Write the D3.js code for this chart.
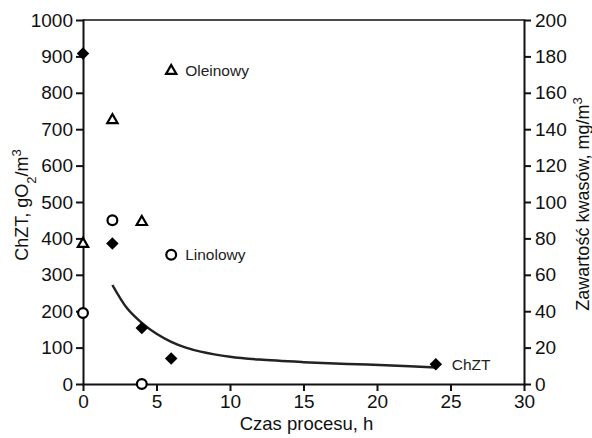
<!DOCTYPE html>
<html lang="pl">
<head>
<meta charset="UTF-8">
<title>ChZT i kwasy</title>
<script src="https://d3js.org/d3.v7.min.js"></script>
<style>
    body { margin: 0; background: #fff; }
    svg { display: block; font-family: "Liberation Sans", Arial, sans-serif; }
    .axis text { font-size: 19px; fill: #111; }
    .axis path, .axis line { stroke: #111; stroke-width: 2; }
</style>
</head>
<body>
<svg id="chart" width="592" height="438"></svg>
<script>
    // ChZT (left axis, gO2/m3)
    const chztTime = [0, 2, 4, 6, 24];
    const chztValue = [908, 386, 154, 70, 54];

    // trend line
    const trendTime = [2, 3, 4, 5, 6, 7, 8, 10, 12, 15, 18, 21, 24];
    const trendValue = [272, 208, 168, 138, 116, 100, 89, 75, 67, 60, 55, 51, 45];

    // acids (right axis, mg/m3)
    const oleinTime = [0, 2, 4];
    const oleinValue = [77, 145, 89];
    const linolTime = [0, 2, 4];
    const linolValue = [39, 90, 0];

    // in-chart labels
    const labelNames = ["Oleinowy", "Linolowy", "ChZT"];
    const labelTime = [6, 6, 24];
    const labelRight = [172, 71, null];

    const xTicks = [0, 5, 10, 15, 20, 25, 30];
    const leftTicks = [0, 100, 200, 300, 400, 500, 600, 700, 800, 900, 1000];
    const rightTicks = [0, 20, 40, 60, 80, 100, 120, 140, 160, 180, 200];

    const svg = d3.select("#chart");
    const margin = { top: 20, right: 68, bottom: 54, left: 83 };
    const width = 592, height = 438;

    const x = d3.scaleLinear().domain([0, 30]).range([margin.left, width - margin.right]);
    const yL = d3.scaleLinear().domain([0, 1000]).range([height - margin.bottom, margin.top]);
    const yR = d3.scaleLinear().domain([0, 200]).range([height - margin.bottom, margin.top]);

    // top border
    svg.append("line")
        .attr("x1", x(0)).attr("x2", x(30))
        .attr("y1", yL(1000)).attr("y2", yL(1000))
        .attr("stroke", "#111").attr("stroke-width", 1.3);

    svg.append("g").attr("class", "axis")
        .attr("transform", `translate(0,${yL(0)})`)
        .call(d3.axisBottom(x).tickValues(xTicks).tickSize(7).tickPadding(4).tickSizeOuter(0));

    svg.append("g").attr("class", "axis")
        .attr("transform", `translate(${x(0)},0)`)
        .call(d3.axisLeft(yL).tickValues(leftTicks).tickFormat(d3.format("d"))
            .tickSize(7).tickPadding(3).tickSizeOuter(0));

    svg.append("g").attr("class", "axis")
        .attr("transform", `translate(${x(30)},0)`)
        .call(d3.axisRight(yR).tickValues(rightTicks).tickFormat(d3.format("d"))
            .tickSize(7).tickPadding(4).tickSizeOuter(0));

    svg.selectAll(".axis .domain").attr("stroke-linecap", "square");

    // axis titles
    svg.append("text")
        .attr("x", (x(0) + x(30)) / 2 + 3).attr("y", 430)
        .attr("text-anchor", "middle").attr("font-size", 18.5).attr("fill", "#111")
        .text("Czas procesu, h");

    const lt = svg.append("text")
        .attr("transform", "translate(28,205) rotate(-90)")
        .attr("text-anchor", "middle").attr("font-size", 18).attr("fill", "#111");
    lt.append("tspan").text("ChZT, gO");
    lt.append("tspan").attr("font-size", 13).attr("baseline-shift", "sub").text("2");
    lt.append("tspan").text("/m");
    lt.append("tspan").attr("font-size", 13).attr("baseline-shift", "super").text("3");

    const rt = svg.append("text")
        .attr("transform", "translate(589,204) rotate(-90)")
        .attr("text-anchor", "middle").attr("font-size", 18).attr("fill", "#111");
    rt.append("tspan").text("Zawartość kwasów, mg/m");
    rt.append("tspan").attr("font-size", 13).attr("baseline-shift", "super").text("3");

    // trend curve
    svg.append("path")
        .datum(trendTime.map((t, i) => [t, trendValue[i]]))
        .attr("fill", "none").attr("stroke", "#222").attr("stroke-width", 2.5)
        .attr("d", d3.line().x(d => x(d[0])).y(d => yL(d[1])).curve(d3.curveCatmullRom.alpha(0.5)));

    // ChZT diamonds
    const diamond = d3.symbol().type(d3.symbolSquare).size(78);
    svg.append("g").selectAll("path")
        .data(chztTime.map((t, i) => [t, chztValue[i]]))
        .join("path")
        .attr("d", diamond)
        .attr("transform", d => `translate(${x(d[0])},${yL(d[1])}) rotate(45)`)
        .attr("fill", "#000");

    // Oleinowy triangles
    const tri = d3.symbol().type(d3.symbolTriangle).size(46);
    const triData = oleinTime.map((t, i) => [t, oleinValue[i]]).concat([[labelTime[0], labelRight[0]]]);
    svg.append("g").selectAll("path")
        .data(triData)
        .join("path")
        .attr("d", tri)
        .attr("transform", d => `translate(${x(d[0])},${yR(d[1])})`)
        .attr("fill", "#fff").attr("stroke", "#000").attr("stroke-width", 2.2);

    // Linolowy circles
    const circData = linolTime.map((t, i) => [t, linolValue[i]]).concat([[labelTime[1], labelRight[1]]]);
    svg.append("g").selectAll("circle")
        .data(circData)
        .join("circle")
        .attr("cx", d => x(d[0])).attr("cy", d => yR(d[1]))
        .attr("r", 4.9)
        .attr("fill", "#fff").attr("stroke", "#000").attr("stroke-width", 2.2);

    // labels
    svg.append("text").attr("x", x(labelTime[0]) + 14).attr("y", yR(labelRight[0]) + 5.5)
        .attr("font-size", 15.5).attr("fill", "#222").text(labelNames[0]);
    svg.append("text").attr("x", x(labelTime[1]) + 14).attr("y", yR(labelRight[1]) + 5.5)
        .attr("font-size", 15.5).attr("fill", "#222").text(labelNames[1]);
    svg.append("text").attr("x", x(labelTime[2]) + 16).attr("y", yL(chztValue[4]) + 5.5)
        .attr("font-size", 15.5).attr("fill", "#222").text(labelNames[2]);
</script>
</body>
</html>
